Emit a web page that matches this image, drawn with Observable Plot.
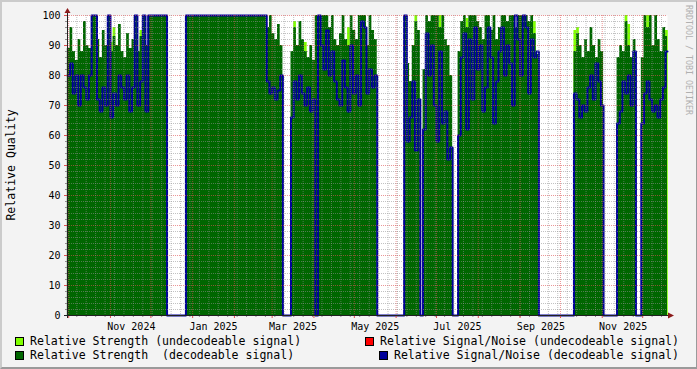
<!DOCTYPE html>
<html><head><meta charset="utf-8">
<script src="https://cdn.jsdelivr.net/npm/d3@7"></script>
<script src="https://cdn.jsdelivr.net/npm/@observablehq/plot@0.6"></script>
<style>
html,body{margin:0;padding:0;background:#f3f3f3;}
#wrap{position:relative;width:697px;height:369px;background:#f3f3f3;overflow:hidden;font-family:"DejaVu Sans Mono",monospace;}
#chart{position:absolute;left:0;top:0;}
#frame{position:absolute;left:0;top:0;width:697px;height:369px;box-sizing:border-box;border-style:solid;border-width:2px 1px 2px 2px;border-color:#cbcbcb #9a9a9a #9a9a9a #cbcbcb;pointer-events:none;}
.leg{position:absolute;font-size:11.55px;white-space:pre;line-height:14px;color:#000;}
.sw{position:absolute;width:7px;height:7px;border:1px solid #000;}
</style></head>
<body>
<div id="wrap">
  <div id="chart"></div>
  <div id="legend"></div>
  <div id="frame"></div>
</div>
<script>
// ---- data ----
const startDate = "2024-09-30";   // first sample
const stepDays = 2;               // one sample every 2 days
const xDomain = ["2024-09-30T02:40Z", "2025-12-19T10:20Z"];

// Relative Strength (decodeable signal)
const strength = [
  89,96,88,85,92,88,98,90,89,100,100,92,86,95,90,100,88,93,90,97,88,86,94,89,92,100,88,93,100,90,
  100,100,100,100,100,100,100,
  0,0,0,0,0,0,0,
  100,100,100,100,100,100,100,100,100,100,100,100,100,100,100,100,100,100,100,100,100,100,100,100,100,100,100,100,100,100,
  96,100,94,92,97,90,
  0,0,0,
  88,96,90,98,92,88,86,90,85,100,100,100,100,100,96,100,92,90,94,100,92,90,100,95,92,100,100,100,90,100,95,92,
  0,0,0,0,0,0,0,0,0,0,
  100,84,78,90,98,95,
  0,
  82,100,98,100,100,100,96,100,92,90,80,
  0,0,
  88,98,100,96,100,100,100,98,96,92,100,100,95,100,92,96,100,100,98,100,100,96,100,100,100,100,98,100,94,87,
  0,0,0,0,0,0,0,0,0,0,0,0,0,
  88,94,90,86,92,88,96,90,86,92,88,
  0,0,0,0,0,
  86,90,88,98,90,86,92,
  0,0,
  86,100,96,100,90,100,92,88,96,93
];

// Relative Signal/Noise (decodeable signal)
const signalNoise = [
  80,84,74,80,70,80,76,72,80,100,100,72,68,76,70,100,66,74,70,80,76,72,80,68,76,100,70,78,100,68,
  100,100,100,100,100,100,100,
  0,0,0,0,0,0,0,
  100,100,100,100,100,100,100,100,100,100,100,100,100,100,100,100,100,100,100,100,100,100,100,100,100,100,100,100,100,100,
  78,74,76,72,75,80,
  0,0,0,
  66,78,72,80,74,70,76,68,72,0,100,90,82,95,80,88,78,72,70,85,76,68,90,74,80,70,98,96,74,82,76,80,
  0,0,0,0,0,0,0,0,0,0,
  100,58,66,78,55,72,
  0,
  62,94,80,90,70,58,88,64,68,52,56,
  0,0,
  60,86,94,62,92,72,96,82,90,68,76,96,86,64,78,88,96,80,90,84,70,100,92,80,100,96,74,92,86,88,
  0,0,0,0,0,0,0,0,0,0,0,0,0,
  74,72,66,70,68,76,80,72,84,78,70,
  0,0,0,0,0,
  64,68,78,74,80,70,88,
  0,0,
  64,74,78,72,68,70,66,72,76,88
];

// Relative Strength (undecodeable signal): sample index and value where it shows above
const undecIndex    = [16, 17, 27, 84, 88, 104, 129, 138, 148, 173, 188, 189, 207, 208, 215, 222];
const undecStrength = [91, 96, 95, 98, 91,  96, 100, 100,  99,  98,  95,  96, 100,  97, 100,  95];

const labelMonths = ["2024-11","2025-01","2025-03","2025-05","2025-07","2025-09","2025-11"];
const yMajor = [0,10,20,30,40,50,60,70,80,90,100];
const yMinorStep = 2;

const legendItems = [
  {label: "Relative Strength (undecodeable signal)", color: "#80ff00"},
  {label: "Relative Signal/Noise (undecodeable signal)", color: "#ff0000"},
  {label: "Relative Strength  (decodeable signal)", color: "#006600"},
  {label: "Relative Signal/Noise (decodeable signal)", color: "#000099"}
];

// ---- build ----
const DAY = 864e5;
const t0 = new Date(startDate + "T00:00Z").getTime();
const dateOf = i => new Date(t0 + i * stepDays * DAY);
const x0 = new Date(xDomain[0]), x1 = new Date(xDomain[1]);
const rows = strength.map((s, i) => ({date: dateOf(i), strength: s, sn: signalNoise[i]}));
rows.push({date: x1, strength: strength[strength.length - 1], sn: signalNoise[signalNoise.length - 1]});

const months = d3.utcMonth.range(x0, x1);
const weeks = d3.utcMonday.range(x0, x1);
const labelDates = labelMonths.map(m => new Date(new Date(m + "-01T00:00Z").getTime() + 15.5 * DAY));
const yMinor = d3.range(0, 101, yMinorStep).filter(v => v % 10 !== 0);
const yAll = d3.range(0, 101, yMinorStep);

const minorStyle = {stroke: "#8f8f8f", strokeOpacity: 0.55, strokeDasharray: "1,1"};
const majorStyle = {stroke: "#de5050", strokeOpacity: 0.6, strokeDasharray: "1,1"};

const chart = Plot.plot({
  width: 697, height: 333,
  marginLeft: 67, marginRight: 30, marginTop: 15, marginBottom: 18,
  style: {background: "transparent", fontFamily: "DejaVu Sans Mono", fontSize: "10px", color: "#000", overflow: "visible"},
  x: {type: "utc", domain: [x0, x1]},
  y: {domain: [0, 100]},
  marks: [
    Plot.frame({fill: "#ffffff", stroke: "none"}),
    Plot.rectY(undecIndex, {x1: i => dateOf(i), x2: i => dateOf(i + 1), y: (d, j) => undecStrength[j], fill: "#80ff00"}),
    Plot.areaY(rows, {x: "date", y: "strength", curve: "step-after", fill: "#006600"}),
    Plot.line(rows, {x: "date", y: "sn", curve: "step-after", stroke: "#000099", strokeWidth: 2}),
    Plot.gridY(yMinor, minorStyle),
    Plot.gridY(yMajor, majorStyle),
    Plot.gridX(weeks, minorStyle),
    Plot.gridX(months, majorStyle),
    Plot.axisY(yAll, {tickSize: 2, tickFormat: () => "", stroke: "#8f8f8f"}),
    Plot.axisY(yMajor, {tickSize: 3, tickPadding: 4, stroke: "#de5050", fill: "#000"}),
    Plot.axisX(weeks, {tickSize: 2, tickFormat: () => "", stroke: "#8f8f8f"}),
    Plot.axisX(months, {tickSize: 3, tickFormat: () => "", stroke: "#de5050"}),
    Plot.axisX(labelDates, {tickSize: 0, tickPadding: 7, tickFormat: d3.utcFormat("%b %Y")})
  ]
});
document.getElementById("chart").appendChild(chart);

// axis lines, arrows, title, watermark
const svg = d3.select(chart);
const sx = chart.scale("x"), sy = chart.scale("y");
const L = sx.range[0], R = sx.range[1], B = sy.range[0], T = sy.range[1];
svg.append("line").attr("x1", L - 3).attr("x2", R + 2).attr("y1", B + 0.5).attr("y2", B + 0.5).attr("stroke", "#202020");
svg.append("line").attr("x1", L + 0.5).attr("x2", L + 0.5).attr("y1", B + 3).attr("y2", T - 3).attr("stroke", "#202020");
svg.append("path").attr("d", `M${R + 7},${B + 0.5}L${R + 1},${B - 2.5}L${R + 1},${B + 3.5}Z`).attr("fill", "#8b1a1a");
svg.append("path").attr("d", `M${L + 0.5},${T - 7}L${L - 2.5},${T - 2}L${L + 3.5},${T - 2}Z`).attr("fill", "#8b1a1a");
svg.append("text").text("Relative Quality")
  .attr("transform", `translate(11,${(T + B) / 2}) rotate(-90)`)
  .attr("text-anchor", "middle").attr("dominant-baseline", "central")
  .attr("font-size", "11.55px").attr("font-family", "DejaVu Sans Mono").attr("fill", "#000");
svg.append("text").text("RRDTOOL / TOBI OETIKER")
  .attr("transform", `translate(688.5,5) rotate(90)`)
  .attr("text-anchor", "start").attr("dominant-baseline", "central")
  .attr("font-size", "8.3px").attr("font-family", "DejaVu Sans Mono").attr("fill", "#b0b0b0");

// legend
const leg = document.getElementById("legend");
const pos = [
  {sw: [15, 337], text: {left: 30, top: 334}},
  {sw: [365, 337], text: {right: 18, top: 334}},
  {sw: [15, 351], text: {left: 30, top: 348}},
  {sw: [379, 351], text: {right: 18, top: 348}}
];
legendItems.forEach((it, k) => {
  const p = pos[k];
  const s = document.createElement("div");
  s.className = "sw"; s.style.left = p.sw[0] + "px"; s.style.top = p.sw[1] + "px"; s.style.background = it.color;
  leg.appendChild(s);
  const t = document.createElement("div");
  t.className = "leg"; t.textContent = it.label; t.style.top = p.text.top + "px";
  if (p.text.left != null) t.style.left = p.text.left + "px"; else t.style.right = p.text.right + "px";
  leg.appendChild(t);
});
</script>
</body></html>
